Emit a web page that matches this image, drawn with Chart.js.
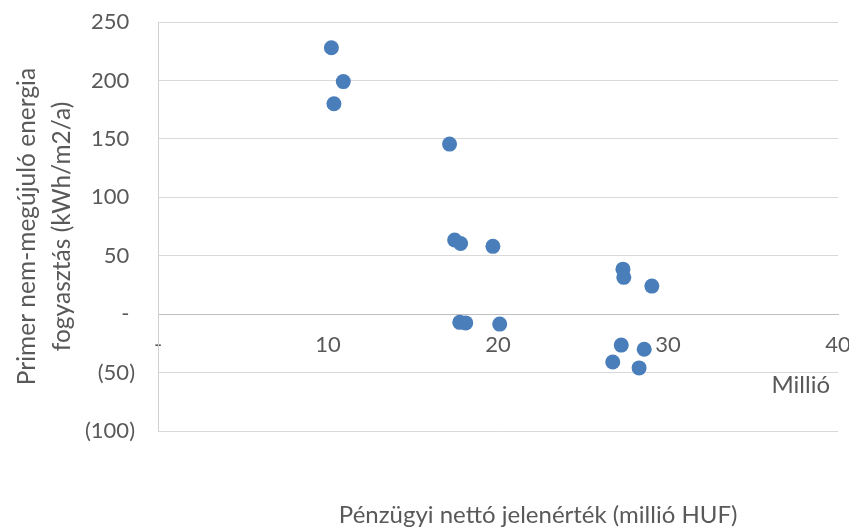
<!DOCTYPE html>
<html>
<head>
<meta charset="utf-8">
<title>Primer energia vs. nettó jelenérték</title>
<script src="https://cdn.jsdelivr.net/npm/chart.js@4.4.1/dist/chart.umd.min.js"></script>
<style>
  html, body { margin: 0; padding: 0; background: #fff; }
  #wrap { width: 849px; height: 529px; }
</style>
</head>
<body>
<div id="wrap"><canvas id="chart"></canvas></div>
<script>
// values (x: millió HUF, y: kWh/m2/a)
const xValues = [10.2, 10.9, 10.35, 17.15, 17.45, 17.8, 17.75, 18.1, 19.7, 20.1, 27.35, 27.4, 29.05, 27.25, 28.6, 26.75, 28.3];
const yValues = [228, 199, 180, 145.5, 63.5, 60.5, -7, -7.5, 58, -8.5, 38.5, 31.5, 24, -26.5, -30, -41, -46];

const xTicks = [0, 10, 20, 30, 40];
const yTicks = [-100, -50, 0, 50, 100, 150, 200, 250];

const yTitle = ["Primer nem-megújuló energia", "fogyasztás (kWh/m2/a)"];
const xTitle = "Pénzügyi nettó jelenérték (millió HUF)";
const unitLabel = "Millió";

const textColor = "#595959";
const fontFamily = "Lato, 'Open Sans', sans-serif";

const points = xValues.map((x, i) => ({ x: x, y: yValues[i] }));

// accounting style labels like in Excel
function fmt(v) {
  if (v === 0) return "- ";
  if (v < 0) return "(" + Math.abs(v) + ")";
  return v + " ";
}

const extraText = {
  id: "extraText",
  afterDraw(chart) {
    const { ctx, chartArea } = chart;
    ctx.save();
    ctx.fillStyle = textColor;
    ctx.font = "24px " + fontFamily;
    ctx.textBaseline = "middle";
    ctx.textAlign = "center";
    ctx.fillText(xTitle, chartArea.left + (chartArea.right - chartArea.left) * 0.559, chartArea.bottom + 84);
    ctx.textAlign = "right";
    ctx.fillText(unitLabel, chartArea.right - 8, chartArea.bottom - 46);
    ctx.restore();
  }
};

new Chart(document.getElementById("chart"), {
  type: "scatter",
  data: {
    datasets: [{
      data: points,
      backgroundColor: "#4a7ebb",
      borderColor: "#4a7ebb",
      borderWidth: 0,
      pointRadius: 7.5,
      pointHoverRadius: 7.5
    }]
  },
  options: {
    responsive: true,
    maintainAspectRatio: false,
    animation: false,
    layout: { padding: { top: 22, right: 11, bottom: 98, left: 0 } },
    plugins: {
      legend: { display: false },
      tooltip: { enabled: false }
    },
    scales: {
      x: {
        type: "linear",
        position: { y: 0 },
        min: 0,
        max: 40,
        afterBuildTicks: s => { s.ticks = xTicks.map(v => ({ value: v })); },
        afterFit: s => { s.paddingLeft = 0; s.paddingRight = 0; },
        grid: { display: false, drawTicks: false },
        border: { display: true, color: "#bfbfbf", width: 1 },
        ticks: {
          padding: 18,
          color: textColor,
          font: { family: fontFamily, size: 22 },
          callback: v => (v === 0 ? "-" : String(v)),
          maxRotation: 0
        }
      },
      y: {
        type: "linear",
        min: -100,
        max: 250,
        afterBuildTicks: s => { s.ticks = yTicks.map(v => ({ value: v })); },
        afterFit: s => { s.width = 158; s.paddingTop = 0; s.paddingBottom = 0; },
        grid: { color: "#d9d9d9", lineWidth: 1, drawTicks: false },
        border: { display: true, color: "#d0d0d0", width: 1 },
        ticks: {
          padding: 23,
          color: textColor,
          font: { family: fontFamily, size: 22 },
          callback: v => fmt(v)
        },
        title: {
          display: true,
          text: yTitle,
          color: textColor,
          font: { family: fontFamily, size: 24.5, lineHeight: "35px" },
          padding: { top: 10, bottom: 0 }
        }
      }
    }
  },
  plugins: [extraText]
});
</script>
</body>
</html>
